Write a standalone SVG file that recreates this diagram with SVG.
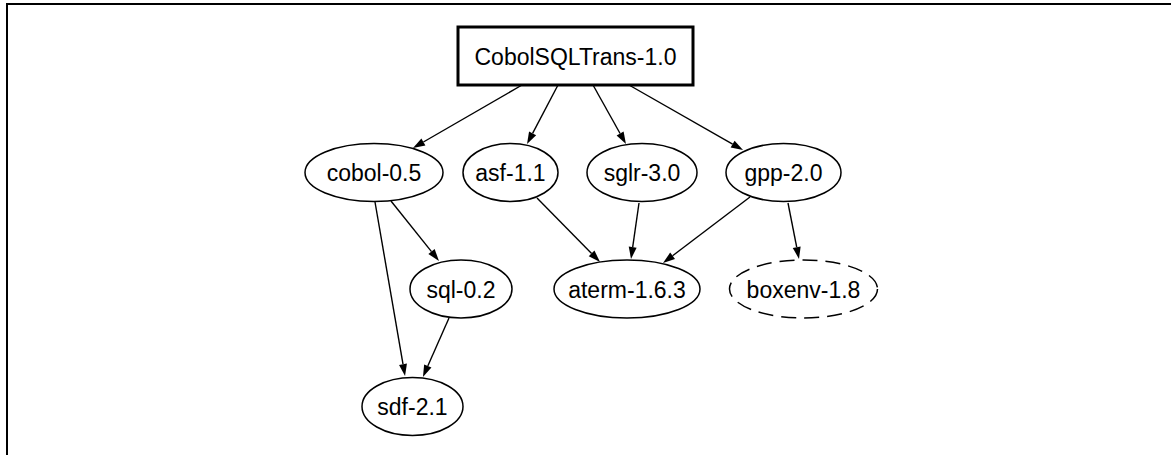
<svg xmlns="http://www.w3.org/2000/svg" width="1171" height="455" viewBox="0 0 1171 455">
  <style>
    .node ellipse { fill: #fff; stroke: #000; stroke-width: 1.5; }
    .node rect { fill: #fff; stroke: #000; stroke-width: 3; }
    .node text { font-family: "Liberation Sans", Arial, sans-serif; font-size: 23px; text-anchor: middle; fill: #000; }
    .dashed ellipse { stroke-dasharray: 15 8; }
    .edges line { stroke: #000; stroke-width: 1.4; marker-end: url(#arrow); }
  </style>
  <defs>
    <marker id="arrow" markerUnits="userSpaceOnUse" markerWidth="12" markerHeight="8" refX="0" refY="4" orient="auto" overflow="visible">
      <path d="M0,0 L12,4 L0,8 z" fill="#000"/>
    </marker>
  </defs>
  <rect width="1171" height="455" fill="#fff"/>
  <!-- page frame -->
  <path d="M7,460 V4 H1175" fill="none" stroke="#000" stroke-width="2"/>

  <g class="edges">
    <line x1="522" y1="85" x2="423.4" y2="142"/>
    <line x1="558" y1="85" x2="532.6" y2="133.4"/>
    <line x1="593" y1="85" x2="620.1" y2="133.5"/>
    <line x1="629" y1="85" x2="732.6" y2="144.1"/>
    <line x1="391" y1="201" x2="431.5" y2="251.6"/>
    <line x1="375" y1="202" x2="403" y2="364.2"/>
    <line x1="449" y1="318" x2="427.8" y2="366"/>
    <line x1="537" y1="198" x2="591.6" y2="253.4"/>
    <line x1="639" y1="203" x2="632.7" y2="247.1"/>
    <line x1="750" y1="197" x2="672.6" y2="255.7"/>
    <line x1="788" y1="203" x2="796.7" y2="247.2"/>
  </g>

  <g id="CobolSQLTrans" class="node">
    <rect x="458" y="27" width="235" height="58"/>
    <text x="575.5" y="65">CobolSQLTrans-1.0</text>
  </g>
  <g id="cobol" class="node">
    <ellipse cx="374" cy="172.5" rx="69" ry="29"/>
    <text x="374" y="181">cobol-0.5</text>
  </g>
  <g id="asf" class="node">
    <ellipse cx="510.5" cy="172.5" rx="47.5" ry="29"/>
    <text x="510.5" y="181">asf-1.1</text>
  </g>
  <g id="sglr" class="node">
    <ellipse cx="642" cy="172.5" rx="55" ry="29"/>
    <text x="642" y="181">sglr-3.0</text>
  </g>
  <g id="gpp" class="node">
    <ellipse cx="783.5" cy="172.5" rx="57.5" ry="29"/>
    <text x="783.5" y="181">gpp-2.0</text>
  </g>
  <g id="sql" class="node">
    <ellipse cx="461" cy="289" rx="51" ry="29"/>
    <text x="461" y="297.5">sql-0.2</text>
  </g>
  <g id="aterm" class="node">
    <ellipse cx="627" cy="289" rx="73" ry="29"/>
    <text x="627" y="297.5">aterm-1.6.3</text>
  </g>
  <g id="boxenv" class="node dashed">
    <ellipse cx="803.5" cy="289" rx="74" ry="29"/>
    <text x="803.5" y="297.5">boxenv-1.8</text>
  </g>
  <g id="sdf" class="node">
    <ellipse cx="412.5" cy="406.5" rx="50.5" ry="29"/>
    <text x="412.5" y="415">sdf-2.1</text>
  </g>
</svg>
